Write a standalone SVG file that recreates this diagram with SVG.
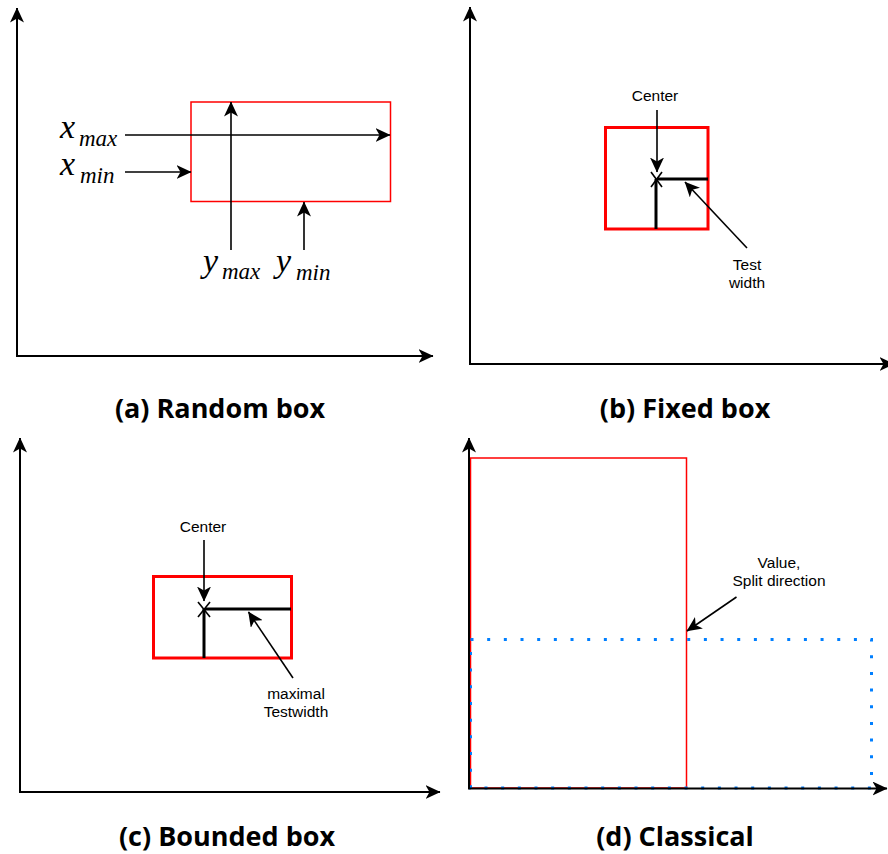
<svg xmlns="http://www.w3.org/2000/svg" width="888" height="854" viewBox="0 0 888 854">
<style>
.ax{stroke:#000;stroke-width:2;fill:none}
.arr{stroke:#000;stroke-width:1.6;fill:none}
.thick{stroke:#000;stroke-width:3;fill:none}
.redthin{stroke:#FF0000;stroke-width:1.5;fill:none}
.redthick{stroke:#FF0000;stroke-width:3;fill:none}
.dots{stroke:#007FFF;stroke-width:3;fill:none;stroke-dasharray:3 13.67}
.lbl{font-family:"Liberation Sans",Arial,sans-serif;font-size:15.5px;fill:#000;text-anchor:middle}
.cap{font-family:"Open Sans","Noto Sans",sans-serif;font-weight:bold;font-size:27px;fill:#000;text-anchor:middle}
.math{font-family:"Liberation Serif","Times New Roman",serif;font-style:italic;fill:#000}
.big{font-size:34px}
.sub{font-size:23px}
</style>
<defs>
<marker id="ah" viewBox="0 0 15 14" refX="14.5" refY="7" markerWidth="15" markerHeight="14" markerUnits="userSpaceOnUse" orient="auto">
<path d="M0,0 L15,7 L0,14 L4,7 z" fill="#000"/>
</marker>
</defs>

<g id="panel-a">
<g id="a-axes">
<line class="ax" x1="17" y1="356" x2="17" y2="8" marker-end="url(#ah)"/>
<line class="ax" x1="16" y1="356" x2="433" y2="356" marker-end="url(#ah)"/>
</g>
<g id="a-box"><rect class="redthin" x="191" y="102" width="199.5" height="99.5"/></g>
<g id="a-xmax"><text class="math" x="60" y="138"><tspan class="big">x</tspan><tspan class="sub" x="79" y="146">max</tspan></text></g>
<g id="a-xmin"><text class="math" x="60" y="175"><tspan class="big">x</tspan><tspan class="sub" x="80" y="183">min</tspan></text></g>
<g id="a-ymax"><text class="math" x="203" y="272"><tspan class="big">y</tspan><tspan class="sub" x="222" y="279">max</tspan></text></g>
<g id="a-ymin"><text class="math" x="276" y="272"><tspan class="big">y</tspan><tspan class="sub" x="296" y="280">min</tspan></text></g>
<g id="a-caption"><text class="cap" x="220" y="418">(a) Random box</text></g>
</g>

<g id="panel-b">
<g id="b-axes">
<line class="ax" x1="470" y1="364" x2="470" y2="7" marker-end="url(#ah)"/>
<line class="ax" x1="469" y1="364" x2="894" y2="364" marker-end="url(#ah)"/>
</g>
<g id="b-box"><rect class="redthick" x="605.5" y="127.5" width="102.5" height="101.5"/></g>
<g id="b-width">
<line class="thick" x1="657" y1="179" x2="708" y2="179"/>
<line class="thick" x1="656" y1="179" x2="656" y2="229"/>
</g>
<g id="b-center-mark">
<line class="arr" x1="651" y1="172" x2="662" y2="187"/>
<line class="arr" x1="662" y1="172" x2="651" y2="187"/>
</g>
<g id="b-center"><text class="lbl" x="655" y="101">Center</text></g>
<g id="b-testwidth"><text class="lbl" x="747" y="270">Test</text><text class="lbl" x="747" y="288">width</text></g>
<g id="b-caption"><text class="cap" x="685" y="418">(b) Fixed box</text></g>
</g>

<g id="panel-c">
<g id="c-axes">
<line class="ax" x1="20" y1="792" x2="20" y2="438" marker-end="url(#ah)"/>
<line class="ax" x1="19" y1="792" x2="440" y2="792" marker-end="url(#ah)"/>
</g>
<g id="c-box"><rect class="redthick" x="153.5" y="576.5" width="138" height="81.5"/></g>
<g id="c-width">
<line class="thick" x1="205" y1="609" x2="291" y2="609"/>
<line class="thick" x1="204" y1="609" x2="204" y2="658"/>
</g>
<g id="c-center-mark">
<line class="arr" x1="198" y1="602" x2="210" y2="617"/>
<line class="arr" x1="210" y1="602" x2="198" y2="617"/>
</g>
<g id="c-center"><text class="lbl" x="203" y="532">Center</text></g>
<g id="c-maxwidth"><text class="lbl" x="296" y="699">maximal</text><text class="lbl" x="296" y="717">Testwidth</text></g>
<g id="c-caption"><text class="cap" x="227" y="846">(c) Bounded box</text></g>
</g>

<g id="panel-d">
<g id="d-red"><rect class="redthin" x="470.5" y="458" width="216" height="330"/></g>
<g id="d-blue"><path class="dots" d="M470.5,639.5 H871.5 V788 H470.5 Z"/></g>
<g id="d-axes">
<line class="ax" x1="469" y1="789" x2="469" y2="438" marker-end="url(#ah)"/>
<line class="ax" x1="468" y1="788.5" x2="887" y2="788.5" marker-end="url(#ah)"/>
</g>
<g id="d-label"><text class="lbl" x="779" y="568">Value,</text><text class="lbl" x="779" y="586">Split direction</text></g>
<g id="d-caption"><text class="cap" x="675" y="846">(d) Classical</text></g>
</g>

<g id="connectors">
<line class="arr" x1="125" y1="135" x2="390" y2="135" marker-end="url(#ah)"/>
<line class="arr" x1="125" y1="172" x2="191" y2="172" marker-end="url(#ah)"/>
<line class="arr" x1="231" y1="250" x2="231" y2="102" marker-end="url(#ah)"/>
<line class="arr" x1="304" y1="250" x2="304" y2="202" marker-end="url(#ah)"/>
<line class="arr" x1="657" y1="110" x2="657" y2="172" marker-end="url(#ah)"/>
<line class="arr" x1="747" y1="248" x2="685" y2="182" marker-end="url(#ah)"/>
<line class="arr" x1="204" y1="540" x2="204" y2="601" marker-end="url(#ah)"/>
<line class="arr" x1="293" y1="678" x2="248.5" y2="612" marker-end="url(#ah)"/>
<line class="arr" x1="736.5" y1="597" x2="687" y2="631" marker-end="url(#ah)"/>
</g>
</svg>
